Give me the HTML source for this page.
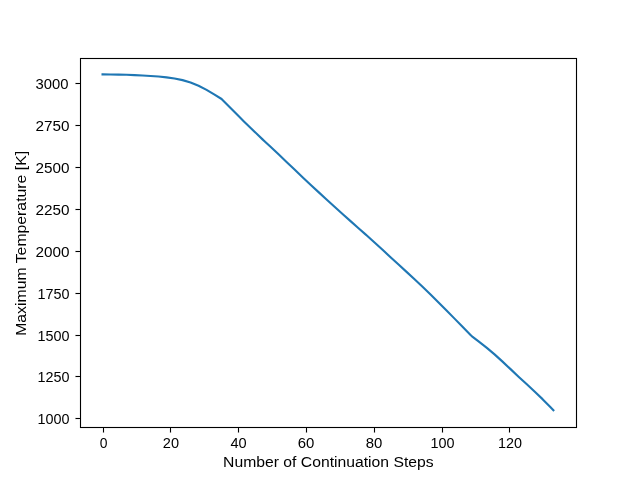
<!DOCTYPE html>
<html>
<head>
<meta charset="utf-8">
<style>
html,body{margin:0;padding:0;background:#fff;width:640px;height:480px;overflow:hidden;}
svg{display:block;will-change:transform;}
text{font-family:"Liberation Sans",sans-serif;font-size:13.89px;fill:#000;}
</style>
</head>
<body>
<svg width="640" height="480" viewBox="0 0 640 480">
<rect x="0" y="0" width="640" height="480" fill="#fff"/>
<!-- data line -->
<polyline fill="none" stroke="#1f77b4" stroke-width="2.12" stroke-linecap="square" stroke-linejoin="round"
 points="102.55,74.40 110.55,74.48 118.55,74.60 126.55,74.78 134.55,75.07 142.55,75.46 150.55,75.95 158.55,76.56 166.55,77.37 174.55,78.51 182.55,80.14 190.55,82.49 198.55,85.75 206.55,89.84 214.55,94.57 221.60,99.00 222.55,99.96 230.55,108.02 238.55,116.01 244.20,121.65 246.55,123.93 254.55,131.67 262.55,139.37 264.80,141.53 270.55,146.83 278.55,154.30 286.55,161.95 294.55,169.60 302.55,177.19 310.55,184.70 318.55,192.14 326.55,199.52 334.55,206.82 342.55,214.04 350.55,221.15 358.55,228.21 365.80,234.60 366.55,235.28 374.55,242.50 382.55,249.83 390.55,257.24 398.55,264.58 406.55,271.87 414.55,279.19 422.55,286.73 430.55,294.50 438.55,302.40 446.55,310.45 454.55,318.62 462.55,326.78 470.55,334.90 472.00,336.37 478.55,341.35 486.55,347.64 494.55,354.36 502.55,361.62 510.55,369.14 518.55,376.66 526.55,384.08 534.55,391.52 542.55,399.14 550.55,407.3 553.4,410.3"/>
<!-- spines & ticks -->
<g shape-rendering="crispEdges">
<g fill="#f1f1f1">
<rect x="79" y="58" width="3" height="370"/><rect x="575" y="58" width="3" height="370"/><rect x="80" y="57" width="497" height="3"/><rect x="80" y="426" width="497" height="3"/>
<rect x="75" y="82" width="5" height="3"/>
<rect x="75" y="124" width="5" height="3"/>
<rect x="75" y="166" width="5" height="3"/>
<rect x="75" y="208" width="5" height="3"/>
<rect x="75" y="250" width="5" height="3"/>
<rect x="75" y="292" width="5" height="3"/>
<rect x="75" y="334" width="5" height="3"/>
<rect x="75" y="375" width="5" height="3"/>
<rect x="75" y="417" width="5" height="3"/>
<rect x="102" y="428" width="3" height="5"/>
<rect x="169" y="428" width="3" height="5"/>
<rect x="237" y="428" width="3" height="5"/>
<rect x="305" y="428" width="3" height="5"/>
<rect x="373" y="428" width="3" height="5"/>
<rect x="441" y="428" width="3" height="5"/>
<rect x="508" y="428" width="3" height="5"/>
</g>
<g fill="#7f7f7f">
<rect x="75" y="83" width="1" height="1"/>
<rect x="75" y="125" width="1" height="1"/>
<rect x="75" y="167" width="1" height="1"/>
<rect x="75" y="209" width="1" height="1"/>
<rect x="75" y="251" width="1" height="1"/>
<rect x="75" y="293" width="1" height="1"/>
<rect x="75" y="335" width="1" height="1"/>
<rect x="75" y="376" width="1" height="1"/>
<rect x="75" y="418" width="1" height="1"/>
<rect x="103" y="432" width="1" height="1"/>
<rect x="170" y="432" width="1" height="1"/>
<rect x="238" y="432" width="1" height="1"/>
<rect x="306" y="432" width="1" height="1"/>
<rect x="374" y="432" width="1" height="1"/>
<rect x="442" y="432" width="1" height="1"/>
<rect x="509" y="432" width="1" height="1"/>
</g>
<g fill="#000">
<rect x="80" y="58" width="1" height="370"/><rect x="576" y="58" width="1" height="370"/><rect x="80" y="58" width="497" height="1"/><rect x="80" y="427" width="497" height="1"/>
<rect x="76" y="83" width="4" height="1"/>
<rect x="76" y="125" width="4" height="1"/>
<rect x="76" y="167" width="4" height="1"/>
<rect x="76" y="209" width="4" height="1"/>
<rect x="76" y="251" width="4" height="1"/>
<rect x="76" y="293" width="4" height="1"/>
<rect x="76" y="335" width="4" height="1"/>
<rect x="76" y="376" width="4" height="1"/>
<rect x="76" y="418" width="4" height="1"/>
<rect x="103" y="428" width="1" height="4"/>
<rect x="170" y="428" width="1" height="4"/>
<rect x="238" y="428" width="1" height="4"/>
<rect x="306" y="428" width="1" height="4"/>
<rect x="374" y="428" width="1" height="4"/>
<rect x="442" y="428" width="1" height="4"/>
<rect x="509" y="428" width="1" height="4"/>
</g></g>
<!-- y tick labels -->
<g text-anchor="end">
<text x="68.5" y="88.5" textLength="33" lengthAdjust="spacingAndGlyphs">3000</text>
<text x="69.5" y="130.5" textLength="34" lengthAdjust="spacingAndGlyphs">2750</text>
<text x="69.5" y="172.5" textLength="34" lengthAdjust="spacingAndGlyphs">2500</text>
<text x="69.5" y="214.5" textLength="34" lengthAdjust="spacingAndGlyphs">2250</text>
<text x="69.5" y="256.5" textLength="34" lengthAdjust="spacingAndGlyphs">2000</text>
<text x="69.5" y="298.5" textLength="32" lengthAdjust="spacingAndGlyphs">1750</text>
<text x="69.5" y="340.5" textLength="32" lengthAdjust="spacingAndGlyphs">1500</text>
<text x="69.5" y="381.5" textLength="32" lengthAdjust="spacingAndGlyphs">1250</text>
<text x="69.5" y="423.5" textLength="32" lengthAdjust="spacingAndGlyphs">1000</text>
</g>
<!-- x tick labels -->
<g text-anchor="middle">
<text x="103.5" y="447.5">0</text>
<text x="170.9" y="447.5" textLength="16.2" lengthAdjust="spacingAndGlyphs">20</text>
<text x="238.5" y="447.5" textLength="16.2" lengthAdjust="spacingAndGlyphs">40</text>
<text x="306.1" y="447.5" textLength="16.6" lengthAdjust="spacingAndGlyphs">60</text>
<text x="374.1" y="447.5" textLength="16.6" lengthAdjust="spacingAndGlyphs">80</text>
<text x="442.5" y="447.5" textLength="24" lengthAdjust="spacingAndGlyphs">100</text>
<text x="510.1" y="447.5" textLength="24" lengthAdjust="spacingAndGlyphs">120</text>
</g>
<!-- axis labels -->
<text x="328.35" y="467" text-anchor="middle" textLength="210.6" lengthAdjust="spacingAndGlyphs">Number of Continuation Steps</text>
<text transform="translate(26,243.4) rotate(-90)" text-anchor="middle" textLength="184.9" lengthAdjust="spacingAndGlyphs">Maximum Temperature [K]</text>
</svg>
</body>
</html>
